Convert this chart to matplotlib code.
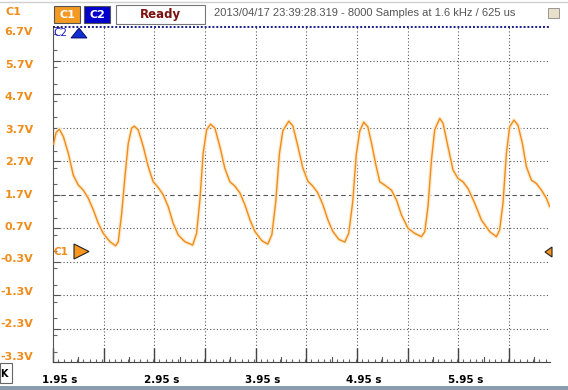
import numpy as np
import matplotlib
matplotlib.use('Agg')
import matplotlib.pyplot as plt
import matplotlib.transforms as mtransforms
from matplotlib.patches import Rectangle, Polygon
from matplotlib.ticker import MultipleLocator

# C1 trace (time in s, level in V)
t_c1 = [1.955, 1.980, 2.012, 2.052, 2.101, 2.150, 2.200, 2.249, 2.298, 2.348,
        2.397, 2.446, 2.512, 2.568, 2.594, 2.628, 2.660, 2.693, 2.726, 2.752,
        2.791, 2.841, 2.890, 2.939, 2.988, 3.038, 3.087, 3.136, 3.186, 3.252,
        3.328, 3.367, 3.400, 3.432, 3.466, 3.505, 3.548, 3.597, 3.646, 3.696,
        3.745, 3.794, 3.843, 3.893, 3.942, 4.011, 4.070, 4.110, 4.149, 4.184,
        4.218, 4.277, 4.317, 4.366, 4.415, 4.465, 4.514, 4.563, 4.613, 4.662,
        4.711, 4.771, 4.830, 4.869, 4.909, 4.943, 4.978, 5.017, 5.057, 5.096,
        5.135, 5.175, 5.224, 5.290, 5.339, 5.389, 5.454, 5.520, 5.586, 5.619,
        5.651, 5.685, 5.717, 5.767, 5.799, 5.848, 5.898, 5.947, 5.996, 6.046,
        6.112, 6.178, 6.260, 6.326, 6.358, 6.391, 6.425, 6.457, 6.499, 6.539,
        6.582, 6.622, 6.671, 6.720, 6.770, 6.819, 6.852]
v_c1 = [3.20, 3.55, 3.65, 3.43, 2.93, 2.28, 1.98, 1.83, 1.59, 1.24,
        0.84, 0.54, 0.29, 0.17, 0.29, 1.14, 2.23, 3.23, 3.68, 3.74,
        3.63, 3.13, 2.53, 2.08, 1.91, 1.69, 1.34, 0.84, 0.49, 0.29,
        0.19, 0.54, 1.54, 2.93, 3.63, 3.80, 3.68, 3.13, 2.48, 2.08,
        1.95, 1.75, 1.40, 0.95, 0.60, 0.32, 0.22, 0.50, 1.50, 2.90,
        3.60, 3.89, 3.75, 3.15, 2.50, 2.10, 1.95, 1.75, 1.40, 0.95,
        0.60, 0.36, 0.28, 0.55, 1.50, 2.90, 3.60, 3.86, 3.72, 3.20,
        2.60, 2.08, 1.98, 1.83, 1.54, 1.09, 0.69, 0.54, 0.44, 0.59,
        1.34, 2.73, 3.63, 3.97, 3.83, 3.13, 2.43, 2.18, 2.08, 1.88,
        1.44, 0.94, 0.59, 0.44, 0.64, 1.44, 2.93, 3.72, 3.92, 3.77,
        3.23, 2.53, 2.13, 2.03, 1.83, 1.59, 1.34]

y_levels = [6.7, 5.7, 4.7, 3.7, 2.7, 1.7, 0.7, -0.3, -1.3, -2.3, -3.3]
y_labels = ['6.7V', '5.7V', '4.7V', '3.7V', '2.7V', '1.7V', '0.7V',
            '-0.3V', '-1.3V', '-2.3V', '-3.3V']
x_label_pos = [1.95, 2.95, 3.95, 4.95, 5.95]
x_labels = ['1.95 s', '2.95 s', '3.95 s', '4.95 s', '5.95 s']
status_text = '2013/04/17 23:39:28.319 - 8000 Samples at 1.6 kHz / 625 us'

W, H = 568, 390
ORANGE = '#f08c1a'


def fx(x):
    return x / W


def fy(y):
    return 1 - y / H


fig = plt.figure(figsize=(W / 100, H / 100), dpi=100)
fig.patch.set_facecolor('white')
ax = fig.add_axes([fx(53), fy(362), 497 / W, 335 / H])
ax.set_xlim(1.95, 6.855)
ax.set_ylim(-3.3, 6.7)

# grid: dotted, centre line dashed
for gx in np.arange(2.45, 6.85, 0.5):
    ax.axvline(gx, color='#555555', lw=0.8, ls=(0, (1, 2)), zorder=1)
for gy in np.arange(-2.3, 6.7, 1.0):
    ls = (0, (4, 3)) if abs(gy - 1.7) < 1e-6 else (0, (1, 2))
    ax.axhline(gy, color='#555555', lw=0.8, ls=ls, zorder=1)

# trace with soft glow
ax.plot(t_c1, v_c1, color='#fdebd0', lw=2.8, solid_joinstyle='round', zorder=2)
ax.plot(t_c1, v_c1, color=ORANGE, lw=1.0, solid_joinstyle='round', zorder=3)

# C2 sits on the top edge
ax.plot([1.95, 6.855], [6.7, 6.7], color='#1a1a8c', lw=1.4, ls=(0, (1, 1)),
        clip_on=False, zorder=4)

for side in ['top', 'right']:
    ax.spines[side].set_visible(False)
ax.spines['left'].set_color('#555555')
ax.spines['bottom'].set_color('#444444')

ax.xaxis.set_minor_locator(MultipleLocator(0.0625))
ax.yaxis.set_minor_locator(MultipleLocator(0.5))
ax.set_xticks(np.arange(1.95, 6.86, 0.5))
ax.set_yticks(y_levels)
ax.tick_params(axis='x', which='major', direction='in', length=10, width=1,
               color='#444444', labelbottom=False)
ax.tick_params(axis='x', which='minor', direction='in', length=2.5, width=0.8,
               color='#666666')
ax.tick_params(axis='y', which='major', direction='in', length=5, width=0.8,
               color='#555555', labelleft=False)
ax.tick_params(axis='y', which='minor', direction='in', length=3, width=0.8,
               color='#666666')
for t in np.arange(2.2, 6.85, 0.5):
    ax.plot([t, t], [-3.3, -3.15], color='#555555', lw=0.8, clip_on=False)

# y labels, slightly compressed like the scope UI
for lv, lab in zip(y_levels, y_labels):
    ypos = 1.7 + (lv - 1.7) * 0.97
    ax.text(-0.04, ypos, lab, transform=ax.get_yaxis_transform(),
            ha='right', va='center', color=ORANGE, fontsize=8,
            fontweight='bold')

off = mtransforms.offset_copy(ax.get_xaxis_transform(), fig=fig, x=7, y=0,
                              units='dots')
for xp, lab in zip(x_label_pos, x_labels):
    ax.text(xp, -0.04, lab, transform=off, ha='center', va='top',
            fontsize=7.5, fontweight='bold', color='black')

# channel markers
ax.add_patch(Polygon([[fx(74), fy(244)], [fx(74), fy(259)], [fx(89), fy(251.5)]],
                     closed=True, transform=fig.transFigure, facecolor='#f7961e',
                     edgecolor='#222222', lw=0.8, zorder=6, clip_on=False))
fig.text(fx(54), fy(252), 'C1', color=ORANGE, fontsize=7.5, ha='left',
         va='center', fontweight='bold')
ax.add_patch(Polygon([[fx(552), fy(247)], [fx(552), fy(257)], [fx(545), fy(252)]],
                     closed=True, transform=fig.transFigure, facecolor='#f7961e',
                     edgecolor='#222222', lw=0.8, zorder=6, clip_on=False))
ax.add_patch(Polygon([[fx(71), fy(38)], [fx(87), fy(38)], [fx(79), fy(28)]],
                     closed=True, transform=fig.transFigure, facecolor='#1030d0',
                     edgecolor='#000066', lw=0.6, zorder=6, clip_on=False))
fig.text(fx(53), fy(33), 'C2', color='#1a1acc', fontsize=7.5, ha='left',
         va='center')

# top status bar
fig.add_artist(plt.Line2D([0, 1], [fy(2), fy(2)], color='#d0d0d0', lw=1))
fig.text(fx(5), fy(12), 'C1', color=ORANGE, fontsize=8, fontweight='bold',
         ha='left', va='center')
fig.add_artist(Rectangle((fx(54), fy(23)), 26 / W, 17 / H, facecolor='#f39a22',
                         edgecolor='#555555', lw=0.8, transform=fig.transFigure))
fig.text(fx(67), fy(14.5), 'C1', color='white', fontsize=8, fontweight='bold',
         ha='center', va='center')
fig.add_artist(Rectangle((fx(84), fy(23)), 26 / W, 17 / H, facecolor='#0000cc',
                         edgecolor='#555555', lw=0.8, transform=fig.transFigure))
fig.text(fx(97), fy(14.5), 'C2', color='white', fontsize=8, fontweight='bold',
         ha='center', va='center')
fig.add_artist(Rectangle((fx(116), fy(24)), 89 / W, 19 / H, facecolor='white',
                         edgecolor='#777777', lw=0.8, transform=fig.transFigure))
fig.text(fx(160.5), fy(14.5), 'Ready', color='#7a1010', fontsize=8.5,
         fontweight='bold', ha='center', va='center')
fig.text(fx(214), fy(13), status_text, color='#555555', fontsize=8,
         family='Liberation Sans', ha='left', va='center')
fig.add_artist(Rectangle((fx(548), fy(18)), 11 / W, 10 / H, facecolor='#e8e0c8',
                         edgecolor='#888888', lw=0.6, transform=fig.transFigure))

# bottom scroll button and bar
fig.add_artist(Rectangle((fx(0), fy(383)), 12 / W, 20 / H, facecolor='white',
                         edgecolor='#666666', lw=0.8, transform=fig.transFigure))
fig.text(fx(4), fy(374), 'K', color='black', fontsize=7, fontweight='bold',
         ha='center', va='center')
fig.add_artist(Rectangle((0, 0), 1, 4 / H, facecolor='#8a9bb0',
                         edgecolor='none', transform=fig.transFigure))

fig.savefig('out.png', dpi=100)
